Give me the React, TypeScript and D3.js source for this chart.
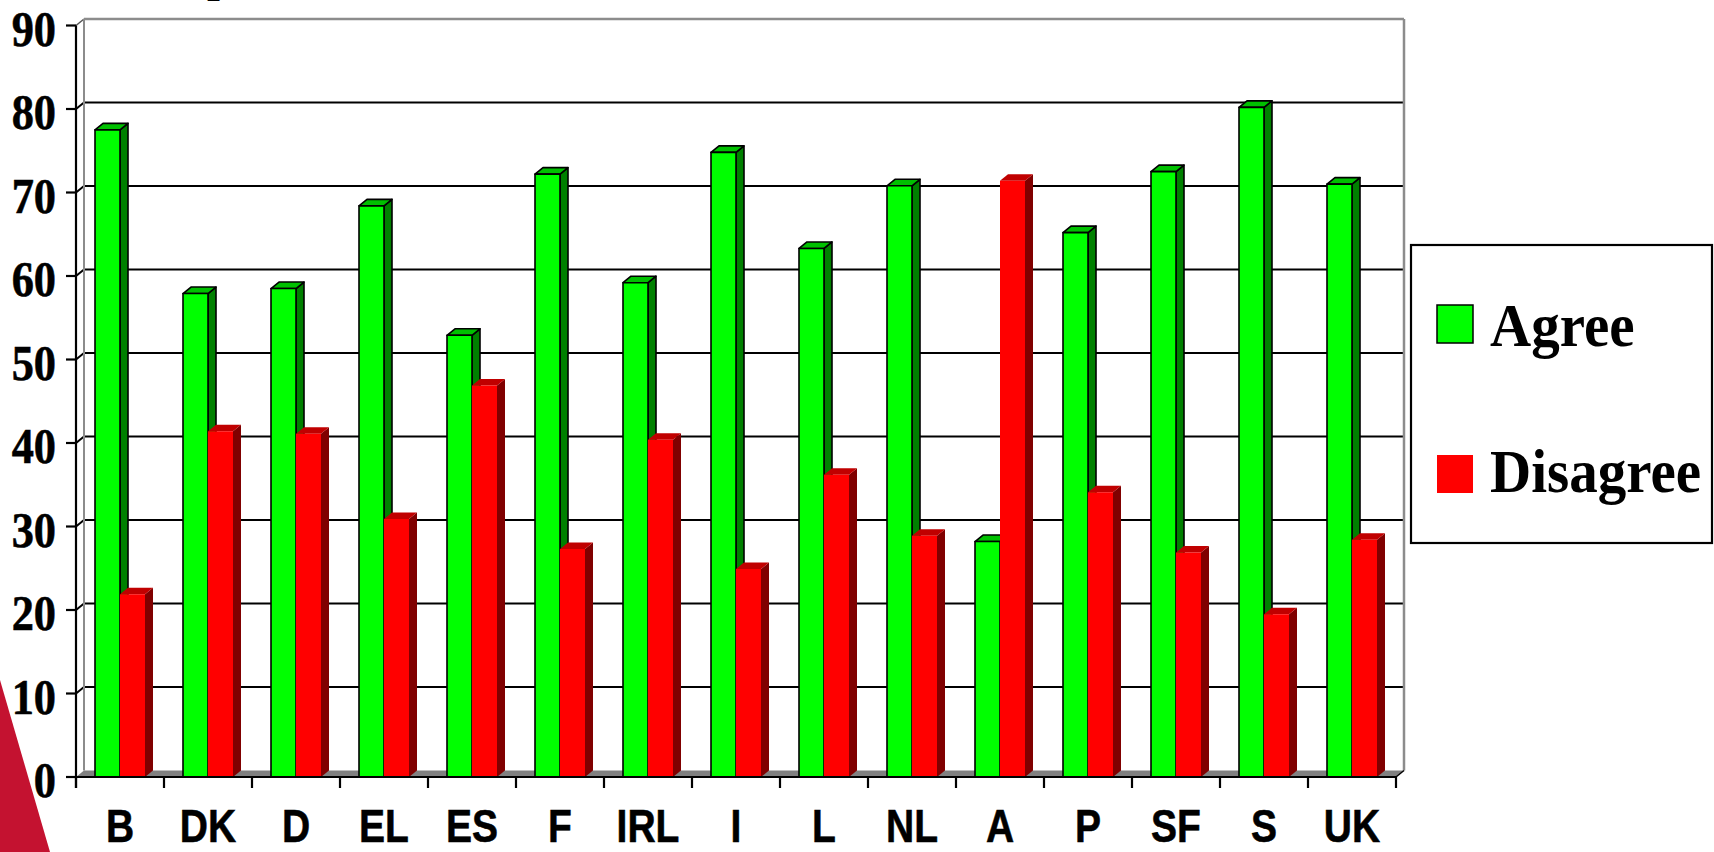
import React from 'react';
import * as d3 from 'd3';

const categories = ['B', 'DK', 'D', 'EL', 'ES', 'F', 'IRL', 'I', 'L', 'NL', 'A', 'P', 'SF', 'S', 'UK'];
const agree = [77.5, 57.9, 58.5, 68.4, 52.9, 72.2, 59.2, 74.8, 63.3, 70.8, 28.2, 65.2, 72.5, 80.2, 71.0];
const disagree = [21.9, 41.4, 41.1, 30.9, 46.9, 27.3, 40.4, 24.9, 36.2, 28.9, 71.4, 34.1, 26.9, 19.5, 28.4];
const seriesNames = ['Agree', 'Disagree'];
const yTicks = [0, 10, 20, 30, 40, 50, 60, 70, 80, 90];

const W = 1714;
const H = 852;
const left = 76;
const right = 1396;
const base = 777;
const top = 25.5;
const dx = 8;
const dy = 6.5;

const serif = '"Times New Roman", "Liberation Serif", serif';
const sans = 'Arial, "Liberation Sans", sans-serif';

const colors = {
  Agree: { front: '#00ff00', top: '#00c000', side: '#008000', stroke: '#000' },
  Disagree: { front: '#ff0000', top: '#c00000', side: '#800000', stroke: 'none' },
};

// one 3d bar: side, top, then front face
function Bar({ x, w, y, c }) {
  const frontPts = `${x},${y} ${x + w},${y} ${x + w},${base} ${x},${base}`;
  const topPts = `${x},${y} ${x + dx},${y - dy} ${x + w + dx},${y - dy} ${x + w},${y}`;
  const sidePts = `${x + w},${y} ${x + w + dx},${y - dy} ${x + w + dx},${base - dy} ${x + w},${base}`;
  const sw = c.stroke === 'none' ? 0 : 1.6;
  return (
    <g strokeLinejoin="round">
      <polygon points={sidePts} fill={c.side} stroke={c.stroke} strokeWidth={sw} />
      <polygon points={topPts} fill={c.top} stroke={c.stroke} strokeWidth={sw} />
      <polygon points={frontPts} fill={c.front} stroke={c.stroke} strokeWidth={sw} />
    </g>
  );
}

export default function App() {
  const x0 = d3.scaleBand().domain(categories).range([left, right]).padding(0);
  const x1 = d3
    .scaleBand()
    .domain(seriesNames)
    .range([0, x0.bandwidth()])
    .paddingInner(0)
    .paddingOuter(0.76);
  const y = d3.scaleLinear().domain([0, 90]).range([base, top]);

  const values = { Agree: agree, Disagree: disagree };

  return (
    <svg width={W} height={H} style={{ position: 'absolute', left: 0, top: 0 }}>
      <rect width={W} height={H} fill="#fff" />

      {/* decoration bottom-left */}
      <polygon points={`0,680 50,${H} 0,${H}`} fill="#c41230" />

      {/* title, cut off at top */}
      <text x={207} y={-9} fontFamily={serif} fontWeight="bold" fontSize={46}>p</text>

      {/* floor */}
      <polygon
        points={`${left},${base} ${right},${base} ${right + dx},${base - dy} ${left + dx},${base - dy}`}
        fill="#808080"
      />

      {/* back wall gridlines */}
      {yTicks.filter((t) => t > 0 && t < 90).map((t) => (
        <g key={t}>
          <line x1={left + dx} x2={right + dx} y1={y(t) - dy} y2={y(t) - dy} stroke="#000" strokeWidth={2.2} />
          <line x1={left} x2={left + dx} y1={y(t)} y2={y(t) - dy} stroke="#000" strokeWidth={2} />
        </g>
      ))}

      {/* wall edges */}
      <line x1={left + dx} x2={right + dx} y1={y(90) - dy} y2={y(90) - dy} stroke="#8c8c8c" strokeWidth={2.5} />
      <line x1={left} x2={left + dx} y1={y(90)} y2={y(90) - dy} stroke="#555" strokeWidth={1.5} />
      <line x1={left + dx} x2={left + dx} y1={y(90) - dy} y2={base - dy} stroke="#8c8c8c" strokeWidth={2} />
      <line x1={right + dx} x2={right + dx} y1={y(90) - dy} y2={base - dy} stroke="#8c8c8c" strokeWidth={2.5} />
      <line x1={right} x2={right + dx} y1={base} y2={base - dy} stroke="#000" strokeWidth={1.5} />

      {/* bars */}
      {categories.map((cat, i) => (
        <g key={cat}>
          {seriesNames.map((s) => (
            <Bar
              key={s}
              x={x0(cat) + x1(s)}
              w={x1.bandwidth()}
              y={y(values[s][i])}
              c={colors[s]}
            />
          ))}
        </g>
      ))}

      {/* y axis */}
      <line x1={left} x2={left} y1={y(90)} y2={base + 11} stroke="#000" strokeWidth={2.2} />
      {yTicks.map((t) => (
        <g key={t}>
          <line x1={left - 10} x2={left} y1={y(t)} y2={y(t)} stroke="#000" strokeWidth={2.2} />
          <text
            transform={`translate(56,${y(t) + 20}) scale(0.87,1)`}
            textAnchor="end"
            fontFamily={serif}
            fontWeight="bold"
            fontSize={51}
            stroke="#000"
            strokeWidth={0.6}
          >
            {t}
          </text>
        </g>
      ))}

      {/* x axis */}
      <line x1={left} x2={right} y1={base} y2={base} stroke="#000" strokeWidth={2.2} />
      {[...categories.map((c) => x0(c)), right].map((xv, i) => (
        <line key={i} x1={xv} x2={xv} y1={base} y2={base + 11} stroke="#000" strokeWidth={2.2} />
      ))}
      {categories.map((c) => (
        <text
          key={c}
          transform={`translate(${x0(c) + x0.bandwidth() / 2},842) scale(0.83,1)`}
          textAnchor="middle"
          fontFamily={sans}
          fontWeight="bold"
          fontSize={47}
          stroke="#000"
          strokeWidth={0.6}
        >
          {c}
        </text>
      ))}

      {/* legend */}
      <rect x={1411} y={245} width={301} height={298} fill="#fff" stroke="#000" strokeWidth={2.2} />
      {seriesNames.map((s, i) => (
        <g key={s}>
          <rect
            x={1437}
            y={i === 0 ? 305 : 455}
            width={36}
            height={38}
            fill={colors[s].front}
            stroke={colors[s].stroke === 'none' ? 'none' : '#000'}
            strokeWidth={1.5}
          />
          <text
            transform={`translate(1490,${i === 0 ? 346 : 492}) scale(0.92,1)`}
            fontFamily={serif}
            fontWeight="bold"
            fontSize={62}
          >
            {s}
          </text>
        </g>
      ))}
    </svg>
  );
}
